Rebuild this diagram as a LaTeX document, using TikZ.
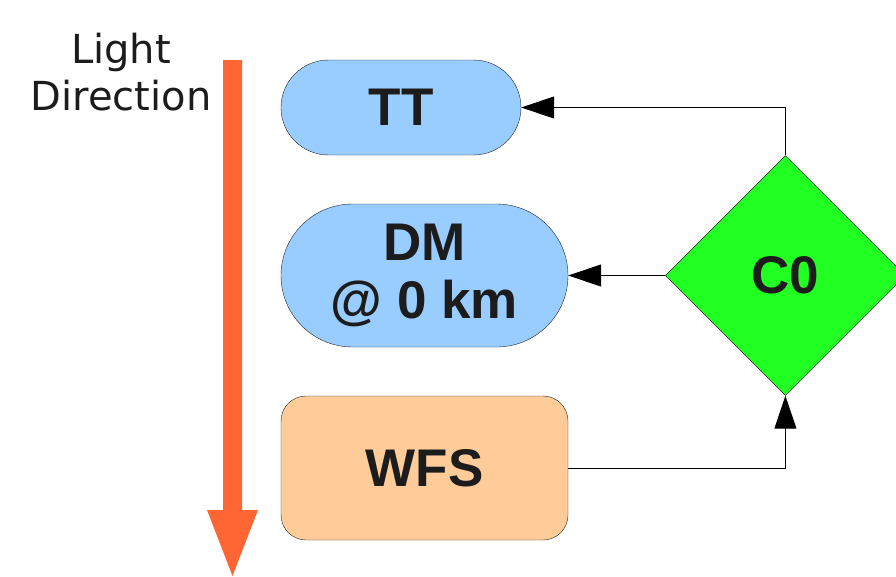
\documentclass[tikz,border=0pt]{standalone}
\usepackage{fontspec}
\setmainfont{Liberation Sans}
\newfontfamily\dirfont{DejaVu Sans}
\usepackage{tikz}
\usetikzlibrary{arrows.meta, positioning, shapes.geometric, shapes.misc}

\definecolor{optblue}{HTML}{99CCFF}
\definecolor{wfsorange}{HTML}{FFCC99}
\definecolor{ctrlgreen}{HTML}{22FF22}
\definecolor{beamorange}{HTML}{FF6633}
\definecolor{inkgray}{HTML}{1C1C1C}

\newcommand{\boxfont}{\fontsize{53}{58}\selectfont\bfseries}

\begin{document}
\begin{tikzpicture}[
  x=1pt, y=-1pt,
  >={Triangle[length=33pt, width=22pt]},
  pill/.style    = {draw=black!85, fill=optblue, rounded rectangle, inner sep=0pt,
                    font=\boxfont, text=inkgray, align=center},
  sensor/.style  = {draw=black!85, fill=wfsorange, rectangle, rounded corners=25pt,
                    inner sep=0pt, font=\boxfont, text=inkgray},
  ctrl/.style    = {draw=black!85, fill=ctrlgreen, diamond, inner sep=0pt,
                    minimum width=240pt, minimum height=240pt, font=\boxfont, text=inkgray},
  link/.style    = {->, line width=1pt, black},
]
  \useasboundingbox (0,0) rectangle (896,576);

  \node[pill, minimum width=240pt, minimum height=95pt]    at (401,107.5)   (TT)  {TT};
  \node[pill, minimum width=287pt, minimum height=143pt]   at (424.5,275.5) (DM)  {DM\\@ 0 km};
  \node[sensor, minimum width=287pt, minimum height=144pt] at (424.5,468)   (WFS) {WFS};
  \node[ctrl, right=97pt of DM]                                             (C0)  {C0};

  % light direction
  \node[font=\dirfont\fontsize{40}{47}\selectfont, text=inkgray, align=center]
        at (121,72) (lightlbl) {Light\\Direction};
  \fill[beamorange] (223,60) -- (242,60) -- (242,510) -- (258,510)
                    -- (232.5,576) -- (207,510) -- (223,510) -- cycle;

  \draw[link] (C0.north) |- (TT.east);
  \draw[link] (C0.west)  -- (DM.east);
  \draw[link] (WFS.east) -| (C0.south);
\end{tikzpicture}
\end{document}
